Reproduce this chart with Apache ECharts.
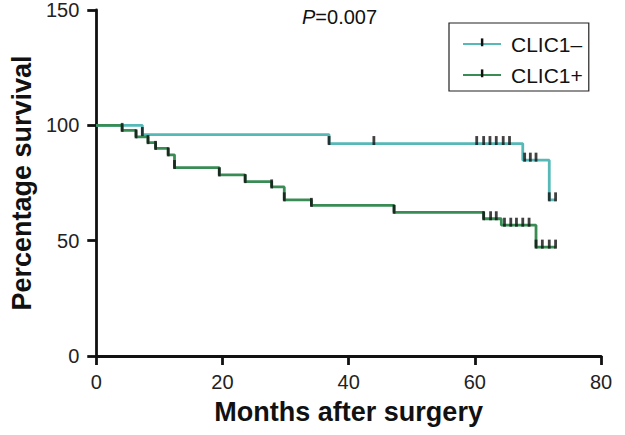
<!DOCTYPE html>
<html>
<head>
<meta charset="utf-8">
<script src="https://cdn.jsdelivr.net/npm/echarts@6/dist/echarts.min.js"></script>
<style>html,body{margin:0;padding:0;background:#fff;}#c{width:625px;height:435px;}</style>
</head>
<body>
<div id="c"></div>
<script>
// Kaplan-Meier step data (months, % survival after each drop)
var seriesNames = ['CLIC1\u2013', 'CLIC1+'];
var xTicks = [0, 20, 40, 60, 80];
var yTicks = [0, 50, 100, 150];

var negTimes = [0, 7.3, 36.9, 67.6, 71.8, 72.8];
var negSurv  = [100, 96.0, 92.1, 84.9, 67.7, 67.7];
var negCensor = [7.3, 36.9, 44.0, 60.3, 61.4, 62.4, 63.4, 64.5, 65.5, 67.9, 68.8, 69.7, 71.8, 72.8];

var posTimes = [0, 4.1, 6.3, 8.2, 9.4, 11.4, 12.4, 19.5, 23.6, 27.8, 29.8, 34.1, 47.2, 61.4, 64.2, 69.7, 72.8];
var posSurv  = [100, 97.8, 95.0, 92.5, 90.0, 87.2, 81.7, 78.5, 75.6, 73.3, 67.7, 65.3, 62.3, 59.5, 56.7, 47.2, 47.2];
var posCensor = [4.1, 6.3, 8.2, 9.4, 11.4, 12.4, 19.5, 23.6, 27.8, 29.8, 34.1, 47.2, 61.4, 62.5, 63.4, 64.7, 65.7, 66.6, 67.6, 68.6, 69.7, 70.7, 71.8, 72.8];

var pText = '=0.007';

function pairs(t, s) { return t.map(function (v, i) { return [v, s[i]]; }); }
function survAt(t, s, x) {
  var v = s[0];
  for (var i = 0; i < t.length; i++) { if (t[i] <= x) v = s[i]; }
  return v;
}
function censorPts(t, s, c) { return c.map(function (x) { return [x, survAt(t, s, x)]; }); }

var teal = '#57b8b8', green = '#3a8c55';
var FONT = 'Liberation Sans, Arial, sans-serif';
// square bounding box with a thin visible tick (used by the legend icon)
var tickSym = 'path://M0,0 M10,10 M4,0 H6.2 V7 H4 Z';

var chart = echarts.init(document.getElementById('c'), null, { renderer: 'svg' });
chart.setOption({
  animation: false,
  backgroundColor: '#fff',
  textStyle: { fontFamily: FONT },
  grid: { left: 89, right: 24, top: 7, bottom: 79 },
  xAxis: {
    type: 'value', min: xTicks[0], max: xTicks[xTicks.length - 1], interval: 20,
    name: 'Months after surgery', nameLocation: 'middle', nameGap: 42,
    nameTextStyle: { fontSize: 27, fontWeight: 'bold', color: '#111', fontFamily: FONT },
    axisLine: { lineStyle: { color: '#111', width: 2.8 } },
    axisTick: { show: true, length: 9, lineStyle: { color: '#111', width: 2.8 } },
    axisLabel: { fontSize: 20, color: '#222', margin: 16, fontFamily: FONT },
    splitLine: { show: false }
  },
  yAxis: {
    type: 'value', min: yTicks[0], max: yTicks[yTicks.length - 1], interval: 50,
    name: 'Percentage survival', nameLocation: 'middle', nameGap: 58,
    nameTextStyle: { fontSize: 27, fontWeight: 'bold', color: '#111', fontFamily: FONT },
    axisLine: { show: true, lineStyle: { color: '#111', width: 2.8 } },
    axisTick: { show: true, length: 9, lineStyle: { color: '#111', width: 2.8 } },
    axisLabel: { fontSize: 20, color: '#222', margin: 17, fontFamily: FONT },
    splitLine: { show: false }
  },
  legend: {
    data: seriesNames, orient: 'vertical', left: 449, top: 23,
    itemWidth: 38, itemHeight: 14, itemGap: 9,
    padding: [10, 6, 5, 13],
    borderColor: '#222', borderWidth: 1.2,
    textStyle: { fontSize: 21, color: '#111', lineHeight: 22, fontFamily: FONT, padding: [0, 0, 0, 5] }
  },
  graphic: [{
    type: 'text', left: 302, top: 7,
    style: {
      text: '{i|P}' + pText,
      font: '20px ' + FONT, fill: '#111',
      rich: { i: { fontStyle: 'italic', fontSize: 20, fontFamily: FONT, fill: '#111' } }
    }
  }],
  series: [
    {
      name: seriesNames[0], type: 'line', step: 'end', data: pairs(negTimes, negSurv),
      showSymbol: false, symbol: tickSym,
      itemStyle: { color: '#111' }, lineStyle: { color: teal, width: 2.8 }, z: 2
    },
    {
      name: seriesNames[1], type: 'line', step: 'end', data: pairs(posTimes, posSurv),
      showSymbol: false, symbol: tickSym,
      itemStyle: { color: '#111' }, lineStyle: { color: green, width: 2.8 }, z: 3
    },
    {
      name: 'neg-censor', type: 'scatter', data: censorPts(negTimes, negSurv, negCensor),
      symbol: 'rect', symbolSize: [2.8, 9], symbolOffset: [0, -3],
      itemStyle: { color: '#111' }, z: 4
    },
    {
      name: 'pos-censor', type: 'scatter', data: censorPts(posTimes, posSurv, posCensor),
      symbol: 'rect', symbolSize: [2.8, 9], symbolOffset: [0, -3],
      itemStyle: { color: '#111' }, z: 4
    }
  ]
});
</script>
</body>
</html>
